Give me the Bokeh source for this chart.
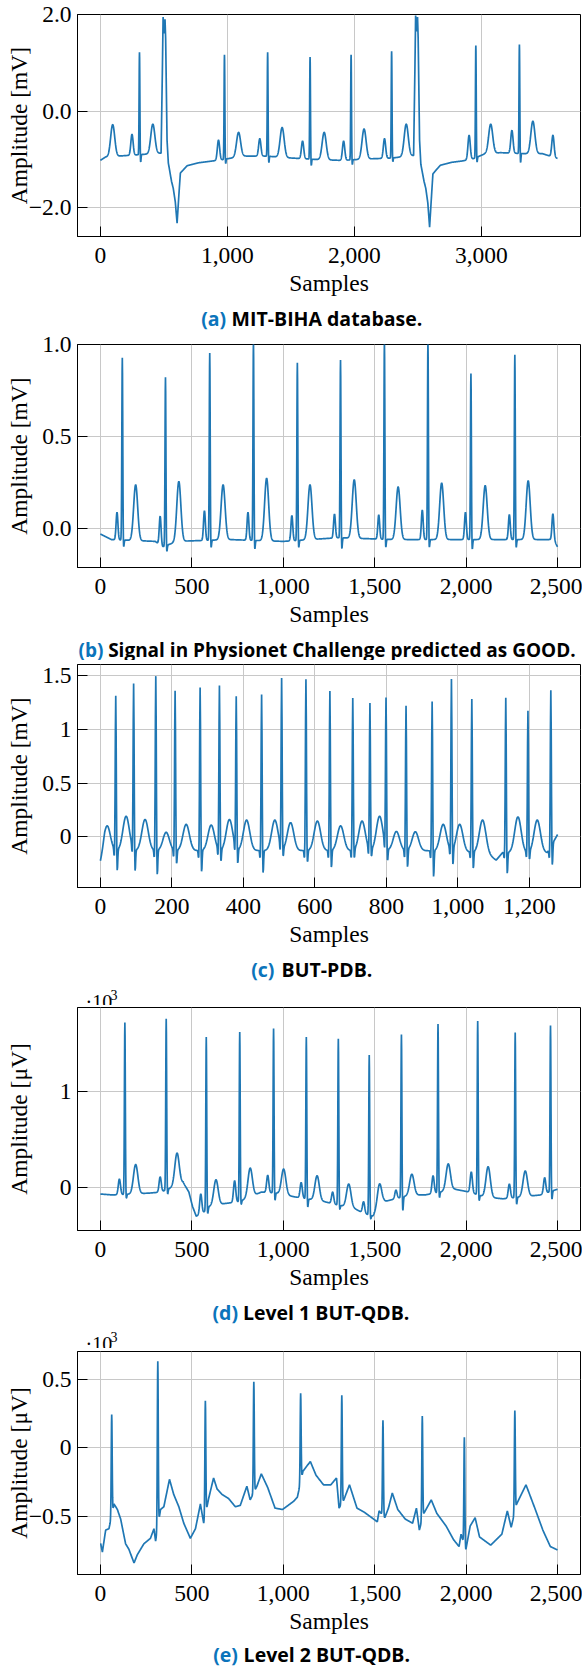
import numpy as np
from bokeh.plotting import figure
from bokeh.layouts import column
from bokeh.models import FixedTicker, Range1d, Label
from bokeh.embed import file_html
from bokeh.resources import INLINE

# ---------------------------------------------------------------------------
# (a) MIT-BIH arrhythmia record: 3600 samples, amplitude in mV
# ---------------------------------------------------------------------------
a_n = 3600
a_base_s = [0, 40, 200, 420, 470, 683, 771, 859, 947, 1123, 1300, 1500, 1700,
            1900, 2100, 2300, 2420, 2460, 2677, 2765, 2853, 2941, 3030, 3150,
            3350, 3480, 3599]
a_base_v = [-1.02, -0.95, -0.92, -0.88, -0.87, -1.13, -1.07, -1.04, -1.01,
            -0.93, -0.93, -0.97, -1.0, -1.02, -0.99, -0.97, -0.93, -0.92,
            -1.12, -1.06, -1.03, -0.98, -0.88, -0.86, -0.88, -0.88, -0.98]
a_r_pos = [308, 977, 1317, 1651, 1974, 2293, 2956, 3299]
a_r_lvl = [1.22, 1.17, 1.22, 1.12, 1.17, 1.24, 1.36, 1.38]
a_s_lvl = [-1.07, -1.10, -1.08, -1.14, -1.12, -1.06, -1.07, -1.08]
a_p_pos = [249, 930, 1255, 1592, 1915, 2237, 2903, 3240, 3563]
a_p_lvl = [-0.48, -0.60, -0.57, -0.62, -0.62, -0.57, -0.50, -0.40, -0.50]
a_t_pos = [97, 413, 1088, 1431, 1762, 2076, 2408, 3073, 3405]
a_t_lvl = [-0.28, -0.27, -0.44, -0.34, -0.44, -0.37, -0.27, -0.27, -0.21]
# ventricular ectopic beats: peak sample, outline offsets and levels
a_pvc_pos = [499, 2487]
a_pvc_dx = [-21, -11, -5, 1, 5, 10, 15, 26, 36, 61, 75, 91, 105, 119, 131, 156]
a_pvc1_lvl = [-0.87, 0.8, 1.946, 1.7, 1.61, 1.9, 1.5, -0.6, -1.07, -1.45,
              -1.6, -1.88, -2.32, -1.74, -1.28, -1.21]
a_pvc2_lvl = [-0.92, 0.8, 1.98, 1.75, 1.65, 1.95, 1.5, -0.6, -1.1, -1.45,
              -1.6, -1.9, -2.40, -1.8, -1.3, -1.22]

# ---------------------------------------------------------------------------
# (b) PhysioNet Challenge recording: 2500 samples, mV
# ---------------------------------------------------------------------------
b_n = 2500
b_base_s = [0, 60, 300, 340, 420, 700, 1000, 1300, 1600, 2000, 2300, 2480, 2499]
b_base_v = [-0.03, -0.06, -0.07, -0.10, -0.07, -0.06, -0.07, -0.05, -0.06,
            -0.06, -0.06, -0.06, -0.10]
b_r_pos = [120, 356, 598, 837, 1077, 1313, 1553, 1791, 2026, 2266]
b_r_lvl = [0.935, 0.829, 0.961, 1.03, 0.908, 0.926, 1.03, 1.03, 0.852, 0.952]
b_s_lvl = [-0.115, -0.14, -0.12, -0.13, -0.12, -0.13, -0.12, -0.12, -0.13, -0.12]
b_p_pos = [91, 327, 569, 807, 1047, 1280, 1522, 1760, 1996, 2236, 2474]
b_p_lvl = [0.088, 0.067, 0.097, 0.088, 0.071, 0.079, 0.074, 0.10, 0.088,
           0.076, 0.08]
b_t_pos = [193, 429, 671, 909, 1146, 1388, 1628, 1866, 2104, 2339]
b_t_lvl = [0.238, 0.256, 0.238, 0.273, 0.238, 0.265, 0.226, 0.247, 0.233, 0.259]

# ---------------------------------------------------------------------------
# (c) BUT-PDB recording: 1280 samples, mV
# ---------------------------------------------------------------------------
c_n = 1280
c_base_s = [0, 12, 300, 600, 900, 1080, 1107, 1125, 1250, 1279]
c_base_v = [-0.25, -0.13, -0.13, -0.13, -0.13, -0.15, -0.22, -0.15, -0.15, 0.02]
c_r_pos = [43, 93, 155, 209, 279, 333, 380, 451, 507, 575, 642, 706, 754, 799,
           855, 928, 982, 1039, 1134, 1196, 1260]
c_r_lvl = [1.31, 1.41, 1.50, 1.36, 1.395, 1.40, 1.28, 1.33, 1.445, 1.47, 1.36,
           1.29, 1.23, 1.256, 1.22, 1.265, 1.455, 1.286, 1.30, 1.17, 1.37]
c_s_lvl = [-0.346, -0.352, -0.383, -0.277, -0.352, -0.262, -0.286, -0.361,
           -0.23, -0.262, -0.313, -0.232, -0.217, -0.262, -0.313, -0.398,
           -0.313, -0.322, -0.367, -0.247, -0.286]
c_q_lvl = -0.22
c_t_pos = [19, 72, 125, 184, 240, 310, 361, 409, 488, 532, 607, 672, 732, 781,
           828, 881, 959, 1005, 1069, 1168, 1222]
c_t_lvl = [0.10, 0.19, 0.16, 0.04, 0.114, 0.108, 0.16, 0.154, 0.154, 0.13,
           0.145, 0.10, 0.145, 0.19, 0.048, 0.045, 0.114, 0.114, 0.154, 0.184,
           0.154]

# ---------------------------------------------------------------------------
# (d) BUT-QDB, quality level 1: 2500 samples, x10^3 uV
# ---------------------------------------------------------------------------
d_n = 2500
d_base_s = [0, 67, 270, 331, 392, 453, 484, 504, 524, 555, 596, 677, 758, 880,
            961, 1063, 1226, 1287, 1388, 1439, 1490, 1551, 1612, 1693, 1774,
            1856, 1937, 2019, 2100, 2201, 2303, 2405, 2499]
d_base_v = [-0.07, -0.08, -0.06, -0.05, 0.0, 0.05, -0.05, -0.2, -0.3, -0.28,
            -0.2, -0.17, -0.15, -0.05, -0.06, -0.1, -0.15, -0.18, -0.22,
            -0.27, -0.3, -0.15, -0.12, -0.08, -0.08, -0.05, -0.02, -0.05,
            -0.1, -0.12, -0.1, -0.08, -0.02]
d_r_pos = [134, 360, 579, 762, 947, 1126, 1301, 1470, 1646, 1846, 2063, 2268, 2461]
d_r_lvl = [1.72, 1.76, 1.57, 1.62, 1.66, 1.57, 1.55, 1.38, 1.60, 1.705, 1.735,
           1.617, 1.69]
d_s_lvl = [-0.125, -0.085, -0.29, -0.19, -0.15, -0.22, -0.24, -0.34, -0.26,
           -0.12, -0.15, -0.19, -0.14]
d_p_pos = [104, 327, 549, 734, 915, 1098, 1270, 1439, 1616, 1819, 2028, 2236, 2429]
d_p_lvl = [0.085, 0.108, -0.07, 0.068, 0.125, 0.05, -0.05, -0.15, -0.03, 0.12,
           0.16, 0.034, 0.1]
d_t_pos = [193, 419, 632, 819, 1002, 1185, 1358, 1526, 1703, 1902, 2120, 2323]
d_t_lvl = [0.237, 0.356, 0.078, 0.2, 0.19, 0.12, 0.034, 0.034, 0.136, 0.244,
           0.214, 0.17]

# ---------------------------------------------------------------------------
# (e) BUT-QDB, quality level 2: 2500 samples, x10^3 uV
# ---------------------------------------------------------------------------
e_n = 2500
e_base_s = [0, 2, 11, 29, 47, 75, 93, 111, 138, 156, 184, 202, 238, 274, 293,
            302, 329, 347, 378, 401, 429, 456, 492, 520, 547, 565, 592, 619,
            638, 665, 701, 738, 765, 801, 819, 856, 880, 915, 955, 996, 1057,
            1077, 1108, 1148, 1179, 1220, 1260, 1291, 1305, 1331, 1362, 1403,
            1443, 1484, 1514, 1524, 1555, 1575, 1596, 1626, 1667, 1707, 1728,
            1744, 1768, 1809, 1840, 1890, 1931, 1961, 1972, 1998, 2022, 2049,
            2073, 2134, 2195, 2225, 2246, 2276, 2327, 2378, 2419, 2460, 2499]
e_base_v = [-0.70, -0.70, -0.76, -0.60, -0.59, -0.41, -0.45, -0.52, -0.70,
            -0.74, -0.84, -0.78, -0.70, -0.66, -0.59, -0.68, -0.45, -0.43,
            -0.23, -0.34, -0.43, -0.55, -0.66, -0.59, -0.41, -0.55, -0.37,
            -0.22, -0.30, -0.34, -0.37, -0.43, -0.42, -0.28, -0.38, -0.28,
            -0.19, -0.29, -0.44, -0.45, -0.39, -0.36, -0.17, -0.10, -0.20,
            -0.27, -0.27, -0.22, -0.44, -0.38, -0.27, -0.44, -0.47, -0.51,
            -0.54, -0.46, -0.51, -0.44, -0.33, -0.45, -0.52, -0.55, -0.44,
            -0.60, -0.48, -0.38, -0.48, -0.57, -0.67, -0.72, -0.63, -0.745,
            -0.57, -0.51, -0.65, -0.71, -0.63, -0.46, -0.58, -0.41, -0.27,
            -0.45, -0.60, -0.72, -0.745]
e_r_pos = [62, 314, 574, 839, 1095, 1320, 1545, 1760, 1990, 2266]
e_r_lvl = [0.243, 0.631, 0.343, 0.481, 0.398, 0.383, 0.2, 0.231, 0.076, 0.271]

# axis ticks and their printed labels
x_ticks_a = [0, 1000, 2000, 3000]
x_labels_a = ["0", "1,000", "2,000", "3,000"]
x_ticks_2500 = [0, 500, 1000, 1500, 2000, 2500]
x_labels_2500 = ["0", "500", "1,000", "1,500", "2,000", "2,500"]
x_ticks_c = [0, 200, 400, 600, 800, 1000, 1200]
x_labels_c = ["0", "200", "400", "600", "800", "1,000", "1,200"]
y_ticks_a = [-2.0, 0.0, 2.0]
y_labels_a = ["\u22122.0", "0.0", "2.0"]
y_ticks_b = [0.0, 0.5, 1.0]
y_labels_b = ["0.0", "0.5", "1.0"]
y_ticks_c = [0.0, 0.5, 1.0, 1.5]
y_labels_c = ["0", "0.5", "1", "1.5"]
y_ticks_d = [0.0, 1.0]
y_labels_d = ["0", "1"]
y_ticks_e = [-0.5, 0.0, 0.5]
y_labels_e = ["\u22120.5", "0", "0.5"]

# ---------------------------------------------------------------------------
SERIF = "Liberation Serif"
SANS = "Open Sans"
TRACE = "#1f77b4"
TAG_BLUE = "#0b74bb"
GRID = "#c8c8c8"
TICK_FS = "23.5px"
W = 582
LEFT = 77     # left border shared by every row, so all frames line up
RIGHT = 2


def synth(n, knot_s, knot_v, waves):
    """Piecewise baseline plus Gaussian waves reaching the given levels."""
    s = np.arange(n, dtype=float)
    base = np.interp(s, knot_s, knot_v)
    sig = base.copy()
    for centre, level, width in waves:
        height = level - np.interp(centre, knot_s, knot_v)
        sig += height * np.exp(-0.5 * ((s - centre) / width) ** 2)
    return s, sig


def waves(pos, lvl, width, shift=0):
    if np.isscalar(lvl):
        lvl = [lvl] * len(pos)
    return [(p + shift, v, width) for p, v in zip(pos, lvl)]


# (a): the two ectopic complexes are merged into the baseline outline
ks = list(a_base_s)
kv = list(a_base_v)
for pos, lvl in zip(a_pvc_pos, [a_pvc1_lvl, a_pvc2_lvl]):
    ks += [pos + d for d in a_pvc_dx]
    kv += lvl
order = np.argsort(ks)
ks = np.array(ks, dtype=float)[order]
kv = np.array(kv, dtype=float)[order]
sa, ya = synth(a_n, ks, kv,
               waves(a_r_pos, a_r_lvl, 3) + waves(a_r_pos, a_s_lvl, 3, 9)
               + waves(a_p_pos, a_p_lvl, 9) + waves(a_t_pos, a_t_lvl, 16))

sb, yb = synth(b_n, b_base_s, b_base_v,
               waves(b_r_pos, b_r_lvl, 2.5) + waves(b_r_pos, b_s_lvl, 3, 6)
               + waves(b_p_pos, b_p_lvl, 5) + waves(b_t_pos, b_t_lvl, 11))

sc, yc = synth(c_n, c_base_s, c_base_v,
               waves(c_r_pos, c_r_lvl, 1.4) + waves(c_r_pos, c_s_lvl, 1.4, 4)
               + waves(c_r_pos, c_q_lvl, 1.2, -4) + waves(c_t_pos, c_t_lvl, 9))

sd, yd = synth(d_n, d_base_s, d_base_v,
               waves(d_r_pos, d_r_lvl, 2.5) + waves(d_r_pos, d_s_lvl, 3, 7)
               + waves(d_p_pos, d_p_lvl, 6) + waves(d_t_pos, d_t_lvl, 12))

se, ye = synth(e_n, e_base_s, e_base_v, waves(e_r_pos, e_r_lvl, 2.5))


def panel(s, sig, spec):
    p = figure(width=W, height=spec["height"],
               x_range=Range1d(*spec["xr"]), y_range=Range1d(*spec["yr"]),
               output_backend="svg", toolbar_location=None,
               min_border_left=LEFT, min_border_right=RIGHT,
               min_border_top=spec["top"], min_border_bottom=spec["bottom"])
    p.background_fill_color = "white"
    p.border_fill_color = "white"
    p.outline_line_color = "black"
    p.outline_line_width = 1

    p.line(s, sig, line_color=TRACE, line_width=1.7)

    p.xaxis.ticker = FixedTicker(ticks=spec["xt"])
    p.xaxis.major_label_overrides = dict(zip(spec["xt"], spec["xl"]))
    p.yaxis.ticker = FixedTicker(ticks=spec["yt"])
    p.yaxis.major_label_overrides = dict(zip(spec["yt"], spec["yl"]))
    p.xaxis.axis_label = "Samples"
    p.yaxis.axis_label = spec["ylab"]
    for ax in (p.xaxis, p.yaxis):
        ax.axis_line_color = "black"
        ax.major_tick_in = 10
        ax.major_tick_out = 0
        ax.minor_tick_in = 0
        ax.minor_tick_out = 0
        ax.major_tick_line_color = "black"
        ax.major_label_text_font = SERIF
        ax.major_label_text_font_size = TICK_FS
        ax.major_label_text_color = "black"
        ax.axis_label_text_font = SERIF
        ax.axis_label_text_font_size = TICK_FS
        ax.axis_label_text_font_style = "normal"
        ax.axis_label_text_color = "black"
    p.xaxis.major_label_standoff = 11
    p.xaxis.axis_label_standoff = 4
    p.yaxis.major_label_standoff = 6
    p.yaxis.axis_label_standoff = spec["als"]

    p.xgrid.grid_line_color = GRID
    p.ygrid.grid_line_color = GRID
    p.xgrid.grid_line_width = 1
    p.ygrid.grid_line_width = 1
    return p


def caption_strip(height, tag, text, tag_x, cap_y, scale_y=None, size=19.5):
    """Blank strip carrying a sub-figure caption (and the next panel's scale).

    Its frame uses the same borders as the panels; the x range is given in
    page pixels so that captions can be placed by absolute position.
    """
    c = figure(width=W, height=height, x_range=Range1d(LEFT, W - RIGHT),
               y_range=Range1d(height, 0), output_backend="svg",
               toolbar_location=None, x_axis_type=None, y_axis_type=None,
               min_border_left=LEFT, min_border_right=RIGHT, min_border_top=0,
               min_border_bottom=0)
    c.outline_line_color = None
    c.background_fill_color = "white"
    c.border_fill_color = "white"
    c.xgrid.visible = False
    c.ygrid.visible = False
    fs = f"{size}px"
    c.add_layout(Label(x=tag_x, y=cap_y, text=tag, text_font=SANS,
                       text_font_style="bold", text_font_size=fs,
                       text_color=TAG_BLUE, text_baseline="middle",
                       text_align="left"))
    c.add_layout(Label(x=tag_x + size * 1.56, y=cap_y, text=text,
                       text_font=SANS, text_font_style="bold",
                       text_font_size=fs, text_color="black",
                       text_baseline="middle", text_align="left"))
    if scale_y is not None:
        c.add_layout(Label(x=85, y=scale_y, text="\u00b710", text_font=SERIF,
                           text_font_size="20px", text_color="black",
                           text_baseline="alphabetic", text_align="left"))
        c.add_layout(Label(x=110, y=scale_y - 7, text="3", text_font=SERIF,
                           text_font_size="14px", text_color="black",
                           text_baseline="alphabetic", text_align="left"))
    return c


specs = [
    dict(height=298, top=14, bottom=56, xr=(-180, 3780), yr=(-2.595, 2.0),
         xt=x_ticks_a, xl=x_labels_a, yt=y_ticks_a, yl=y_labels_a,
         ylab="Amplitude [mV]", als=-6),
    dict(height=299, top=14, bottom=56, xr=(-125, 2625), yr=(-0.212, 1.0),
         xt=x_ticks_2500, xl=x_labels_2500, yt=y_ticks_b, yl=y_labels_b,
         ylab="Amplitude [mV]", als=7),
    dict(height=289, top=4, bottom=56, xr=(-64, 1343), yr=(-0.475, 1.606),
         xt=x_ticks_c, xl=x_labels_c, yt=y_ticks_c, yl=y_labels_c,
         ylab="Amplitude [mV]", als=7),
    dict(height=287, top=2, bottom=56, xr=(-125, 2625), yr=(-0.45, 1.872),
         xt=x_ticks_2500, xl=x_labels_2500, yt=y_ticks_d, yl=y_labels_d,
         ylab="Amplitude [\u03bcV]", als=25),
    dict(height=288, top=3, bottom=58, xr=(-125, 2625), yr=(-0.924, 0.702),
         xt=x_ticks_2500, xl=x_labels_2500, yt=y_ticks_e, yl=y_labels_e,
         ylab="Amplitude [\u03bcV]", als=-6),
]

captions = [
    caption_strip(32, "(a)", "MIT-BIHA database.", 200.7, 20),
    caption_strip(31, "(b)", "Signal in Physionet Challenge predicted as GOOD.",
                  78, 20, size=19),
    caption_strip(56, "(c)", "BUT-PDB.", 250.7, 20, scale_y=52),
    caption_strip(56, "(d)", "Level 1 BUT-QDB.", 212, 20, scale_y=51),
    caption_strip(31, "(e)", "Level 2 BUT-QDB.", 212.7, 18),
]

traces = [(sa, ya), (sb, yb), (sc, yc), (sd, yd), (se, ye)]
children = []
for (s, y), sp, cap in zip(traces, specs, captions):
    children.append(panel(s, y, sp))
    children.append(cap)

layout = column(*children, spacing=0)
open("out.html", "w").write(file_html(layout, INLINE))
